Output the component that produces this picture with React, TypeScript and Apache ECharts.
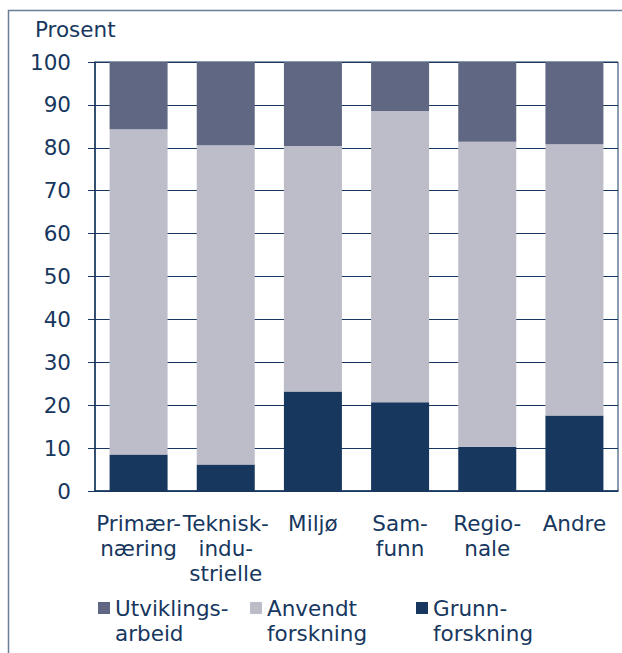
import React, { useEffect, useRef } from "react";
import * as echarts from "echarts";

const categories = ["Primær-\nnæring", "Teknisk-\nindu-\nstrielle", "Miljø", "Sam-\nfunn", "Regio-\nnale", "Andre"];
const grunnforskning = [8.5, 6.2, 23.2, 20.7, 10.3, 17.6];
const anvendtForskning = [75.8, 74.4, 57.2, 67.9, 71.1, 63.2];
const utviklingsarbeid = [15.7, 19.4, 19.6, 11.4, 18.6, 19.2];
const seriesNames = ["Utviklings-\narbeid", "Anvendt\nforskning", "Grunn-\nforskning"];
const yTicks = { min: 0, max: 100, interval: 10 };

const NAVY = "#17375e";
const FONT = "DejaVu Sans";
const FS = 21.5;

export default function App() {
  const ref = useRef<HTMLDivElement>(null);
  useEffect(() => {
    const chart = echarts.init(ref.current!, null, { renderer: "svg" });
    const legendText = {
      color: NAVY,
      fontFamily: FONT,
      fontSize: FS,
      lineHeight: 25,
    };
    const mkLegend = (name: string, left: number) => ({
      data: [name],
      left,
      top: 590.5,
      orient: "horizontal",
      icon: "path://M0,0L12,0L12,12L0,12Z M0,37L0.01,37L0.01,37.01Z",
      itemWidth: 12,
      itemHeight: 37,
      itemGap: 5,
      selectedMode: false,
      textStyle: legendText,
    });
    chart.setOption({
      animation: false,
      textStyle: { fontFamily: FONT },
      graphic: [
        {
          type: "polyline",
          shape: { points: [[8.5, 653], [8.5, 10.5], [622, 10.5]] },
          style: { stroke: "#6a7e98", lineWidth: 1.5, fill: "none" },
          silent: true,
        },
        {
          type: "text",
          left: 35,
          top: 18,
          style: { text: "Prosent", fill: NAVY, fontFamily: FONT, fontSize: FS },
        },
      ],
      legend: [
        mkLegend(seriesNames[0], 93),
        mkLegend(seriesNames[1], 245),
        mkLegend(seriesNames[2], 411),
      ],
      grid: {
        left: 95,
        top: 62,
        right: 4,
        bottom: 162,
        show: true,
        borderColor: NAVY,
        borderWidth: 1,
        containLabel: false,
      },
      xAxis: {
        type: "category",
        data: categories,
        axisLine: { show: true, lineStyle: { color: NAVY, width: 1.5 } },
        axisTick: { show: false },
        axisLabel: {
          interval: 0,
          color: NAVY,
          fontFamily: FONT,
          fontSize: FS,
          lineHeight: 25,
          margin: 20,
          hideOverlap: false,
        },
      },
      yAxis: {
        type: "value",
        min: yTicks.min,
        max: yTicks.max,
        interval: yTicks.interval,
        axisLine: { show: true, lineStyle: { color: NAVY, width: 1.5 } },
        axisTick: { show: true, length: 7, lineStyle: { color: NAVY } },
        splitLine: { show: true, lineStyle: { color: NAVY, width: 1 } },
        axisLabel: { color: NAVY, fontFamily: FONT, fontSize: FS, margin: 24 },
      },
      series: [
        {
          name: seriesNames[2],
          type: "bar",
          stack: "total",
          barWidth: 58,
          data: grunnforskning,
          itemStyle: { color: "#17375e" },
        },
        {
          name: seriesNames[1],
          type: "bar",
          stack: "total",
          barWidth: 58,
          data: anvendtForskning,
          itemStyle: { color: "#bdbdca" },
        },
        {
          name: seriesNames[0],
          type: "bar",
          stack: "total",
          barWidth: 58,
          data: utviklingsarbeid,
          itemStyle: { color: "#5f6783" },
        },
      ],
    });
    return () => chart.dispose();
  }, []);
  return (
    <div
      ref={ref}
      style={{ position: "absolute", left: 0, top: 0, width: 622, height: 653 }}
    />
  );
}
